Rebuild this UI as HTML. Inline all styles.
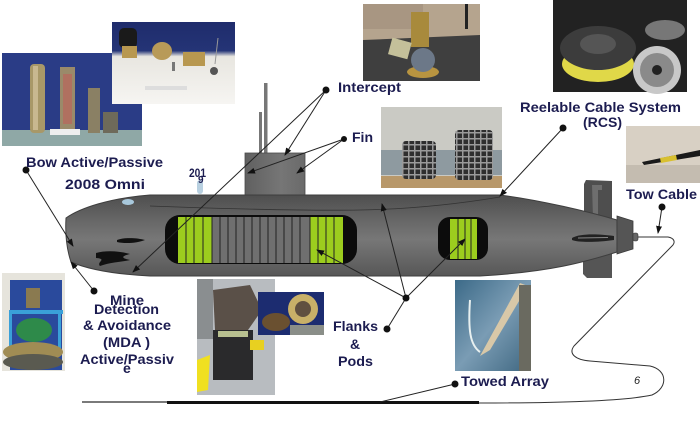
<!DOCTYPE html>
<html><head><meta charset="utf-8"><style>
html,body{margin:0;padding:0;background:#fff;}
svg{display:block;}
text{font-family:"Liberation Sans",Arial,sans-serif;font-weight:bold;fill:#1c1c50;}
</style></head><body>
<svg width="700" height="424" viewBox="0 0 700 424" xmlns="http://www.w3.org/2000/svg">
<defs>
<marker id="ar" markerWidth="8" markerHeight="8" refX="7" refY="4" orient="auto" markerUnits="userSpaceOnUse"><path d="M0,1 L8,4 L0,7 Z" fill="#111"/></marker>
<linearGradient id="hull" x1="0" y1="0" x2="0" y2="1">
<stop offset="0" stop-color="#4e4e4e"/><stop offset="0.3" stop-color="#666"/><stop offset="0.55" stop-color="#777"/><stop offset="1" stop-color="#575757"/></linearGradient>
<linearGradient id="sail" x1="0" y1="0" x2="1" y2="0">
<stop offset="0" stop-color="#606060"/><stop offset="0.6" stop-color="#767676"/><stop offset="1" stop-color="#6a6a6a"/></linearGradient>
<linearGradient id="p2" x1="0" y1="0" x2="0" y2="1">
<stop offset="0" stop-color="#1f2c6c"/><stop offset="0.35" stop-color="#243476"/><stop offset="0.42" stop-color="#e8e6e0"/><stop offset="1" stop-color="#f6f5f2"/></linearGradient>
<linearGradient id="water" x1="0" y1="0" x2="1" y2="1">
<stop offset="0" stop-color="#3c6a88"/><stop offset="0.5" stop-color="#7a9cb4"/><stop offset="1" stop-color="#3e6680"/></linearGradient>
<pattern id="grid" width="6" height="6" patternUnits="userSpaceOnUse"><rect width="6" height="6" fill="#2e2e2e"/><rect x="0" y="0" width="6" height="1.5" fill="#9a9a9a"/><rect x="0" y="0" width="1.5" height="6" fill="#9a9a9a"/></pattern>
</defs>

<!-- Photo: bow (left top) -->
<rect x="2" y="53" width="140" height="93" fill="#2a3c86"/>
<rect x="2" y="130" width="140" height="16" fill="#8fa8a6"/>
<rect x="30" y="64" width="15" height="69" rx="4" fill="#a89868"/>
<rect x="33" y="66" width="5" height="64" fill="#c8b890"/>
<rect x="60" y="67" width="15" height="66" fill="#9a8a6a"/>
<rect x="63" y="74" width="9" height="50" fill="#b07060"/>
<rect x="88" y="88" width="12" height="45" fill="#8a8064"/>
<rect x="103" y="112" width="15" height="21" fill="#6e6a5a"/>
<rect x="50" y="129" width="30" height="6" fill="#eee"/>

<!-- Photo: second top -->
<rect x="112" y="22" width="123" height="82" fill="url(#p2)"/>
<rect x="119" y="28" width="18" height="20" rx="5" fill="#1a1a1a"/>
<rect x="122" y="46" width="15" height="12" fill="#b89850"/>
<ellipse cx="162" cy="51" rx="10" ry="9" fill="#b89a58"/>
<rect x="183" y="52" width="22" height="14" fill="#b89850"/>
<line x1="218" y1="38" x2="215" y2="64" stroke="#999" stroke-width="1"/>
<circle cx="214" cy="71" r="4" fill="#555"/>
<rect x="172" y="62" width="3" height="9" fill="#777"/>
<rect x="145" y="86" width="42" height="4" fill="#ddd"/>

<!-- Photo: intercept -->
<rect x="363" y="4" width="117" height="77" fill="#b5a48e"/>
<rect x="363" y="4" width="60" height="25" fill="#a89682"/>
<path d="M363,40 L480,35 L480,81 L363,81 Z" fill="#3f3f3f"/>
<rect x="411" y="12" width="18" height="35" fill="#a88a3c"/>
<rect x="390" y="40" width="20" height="17" fill="#c4c09a" transform="rotate(15 400 48)"/>
<ellipse cx="423" cy="72" rx="16" ry="6" fill="#b89440"/>
<circle cx="423" cy="60" r="12" fill="#6c7888"/>
<rect x="465" y="4" width="3" height="25" fill="#222"/>

<!-- Photo: RCS -->
<rect x="553" y="0" width="134" height="92" fill="#222"/>
<ellipse cx="598" cy="64" rx="36" ry="18" fill="#e0d848"/>
<ellipse cx="598" cy="48" rx="38" ry="22" fill="#3c3c3c"/>
<ellipse cx="598" cy="44" rx="18" ry="10" fill="#555"/>
<ellipse cx="665" cy="30" rx="20" ry="10" fill="#777"/>
<circle cx="657" cy="70" r="24" fill="#c8c8c8"/>
<circle cx="657" cy="70" r="17" fill="#8a8a8a"/>
<circle cx="657" cy="70" r="5" fill="#222"/>

<!-- Photo: fin cylinders -->
<rect x="381" y="107" width="121" height="81" fill="#cacac4"/>
<rect x="381" y="150" width="121" height="25" fill="#8e9aa0"/>
<rect x="381" y="176" width="121" height="12" fill="#b8986a"/>
<rect x="402" y="141" width="34" height="38" rx="4" fill="url(#grid)"/>
<rect x="455" y="130" width="38" height="50" rx="4" fill="url(#grid)"/>

<!-- Photo: tow cable -->
<rect x="626" y="126" width="74" height="57" fill="#d8d0c4"/>
<rect x="626" y="165" width="74" height="18" fill="#c4bcb0"/>
<path d="M642,162 L700,150 L700,156 L644,165 Z" fill="#1a1a1a"/>
<path d="M660,158 L676,155 L677,160 L661,163 Z" fill="#d8c030"/>

<!-- Photo: mine (bottom-left) -->
<rect x="2" y="273" width="63" height="98" fill="#e6e4dc"/>
<rect x="10" y="280" width="52" height="90" fill="#2a4a9c"/>
<rect x="26" y="288" width="14" height="20" fill="#8a7a50"/>
<rect x="9" y="310" width="54" height="4" fill="#3aa0d8"/>
<rect x="9" y="310" width="3" height="40" fill="#3aa0d8"/>
<rect x="58" y="310" width="3" height="40" fill="#3aa0d8"/>
<ellipse cx="34" cy="330" rx="18" ry="12" fill="#2e8a4a"/>
<ellipse cx="33" cy="352" rx="30" ry="10" fill="#a08c54"/>
<ellipse cx="33" cy="362" rx="30" ry="8" fill="#5a5a50"/>

<!-- Photo: middle bottom -->
<rect x="197" y="279" width="78" height="116" fill="#b8bcc0"/>
<rect x="197" y="279" width="16" height="60" fill="#8a8e90"/>
<path d="M213,290 L250,285 L262,310 L248,330 L215,330 Z" fill="#5a5048"/>
<rect x="213" y="330" width="40" height="50" fill="#2a2a2c"/>
<rect x="218" y="331" width="30" height="6" fill="#b8c090"/>
<path d="M197,360 L210,355 L208,390 L197,392 Z" fill="#f0e020"/>
<rect x="250" y="340" width="14" height="10" fill="#e8d020"/>
<rect x="258" y="292" width="66" height="43" fill="#1c2c70"/>
<circle cx="303" cy="309" r="15" fill="#c8b068"/>
<circle cx="303" cy="309" r="8" fill="#605040"/>
<ellipse cx="276" cy="322" rx="14" ry="9" fill="#6a5030"/>
<rect x="290" y="325" width="34" height="10" fill="#8a8e88"/>

<!-- Photo: towed array -->
<rect x="455" y="280" width="76" height="91" fill="url(#water)"/>
<path d="M520,283 L528,286 L490,350 L480,356 Z" fill="#d8c8a8"/>
<rect x="519" y="285" width="12" height="86" fill="#6a6a60"/>
<path d="M470,300 C468,330 470,345 480,352" stroke="#e8f0f0" stroke-width="2" fill="none"/>

<!-- Masts -->
<rect x="264" y="83" width="3.5" height="72" fill="#777"/>
<rect x="259" y="112" width="3" height="43" fill="#777"/>

<!-- Sail -->
<rect x="245" y="153" width="60" height="42" fill="url(#sail)" stroke="#4a4a4a" stroke-width="0.8"/>

<!-- Stern rudders -->
<path d="M586,180 L612,181 L612,222 L584,222 L584,184 Z" fill="#4e4e4e"/>
<path d="M592,185 L602,185 L602,190 L598,190 L598,218 L593,218 Z" fill="#6e6e6e"/>
<path d="M583,252 L612,252 L612,278 L587,278 L583,274 Z" fill="#555"/>

<!-- Hull -->
<path d="M66,218 C80,208 110,198 150,195 L500,195 C540,200 590,212 617,220 L617,252 C585,262 550,272 480,276 L150,276 C110,274 85,268 71,262 C67,250 65,235 66,218 Z" fill="url(#hull)" stroke="#3e3e3e" stroke-width="1"/>
<path d="M150,206 C200,208 300,211 360,210 C420,209 470,202 500,197" stroke="#333" stroke-width="0.8" fill="none"/>

<!-- Hub -->
<path d="M617,216 L633,221 L633,249 L617,254 Z" fill="#555" stroke="#3a3a3a" stroke-width="0.8"/>
<rect x="633" y="233" width="5" height="8" rx="2" fill="#666" stroke="#333" stroke-width="0.6"/>
<path d="M572,238 C580,233 600,234 614,236 L614,240 C600,242 580,243 572,240 Z" fill="#222"/>
<path d="M578,238 L608,237.5" stroke="#888" stroke-width="1"/>

<!-- Bow details -->
<ellipse cx="128" cy="202" rx="6" ry="3" fill="#a8c8dc"/>
<rect x="197" y="180" width="6" height="14" rx="3" fill="#b8d0e0"/>
<path d="M117,240 C125,237 138,238 145,240 C138,243 125,244 117,242 Z" fill="#111"/>
<path d="M96,253 C106,250 120,251 130,254 C122,256 120,258 130,260 C122,262 110,262 100,266 C96,262 108,259 96,258 Z" fill="#111"/>

<!-- DDS cylinder -->
<rect x="165" y="215" width="192" height="49" rx="15" fill="#0c0c0c"/>
<rect x="178" y="217" width="34" height="46" fill="#9ccd1e"/>
<rect x="212" y="217" width="98" height="46" fill="#6f6f6f"/>
<rect x="310" y="217" width="33" height="46" fill="#9ccd1e"/>
<g stroke="#222" stroke-width="1">
<line x1="186" y1="217" x2="186" y2="263"/><line x1="194" y1="217" x2="194" y2="263"/><line x1="203" y1="217" x2="203" y2="263"/>
<line x1="212" y1="217" x2="212" y2="263"/>
<line x1="220" y1="217" x2="220" y2="263"/><line x1="228" y1="217" x2="228" y2="263"/><line x1="236" y1="217" x2="236" y2="263"/><line x1="244" y1="217" x2="244" y2="263"/><line x1="252" y1="217" x2="252" y2="263"/><line x1="260" y1="217" x2="260" y2="263"/><line x1="268" y1="217" x2="268" y2="263"/><line x1="276" y1="217" x2="276" y2="263"/><line x1="284" y1="217" x2="284" y2="263"/><line x1="292" y1="217" x2="292" y2="263"/><line x1="300" y1="217" x2="300" y2="263"/>
<line x1="310" y1="217" x2="310" y2="263"/>
<line x1="318" y1="217" x2="318" y2="263"/><line x1="326" y1="217" x2="326" y2="263"/><line x1="334" y1="217" x2="334" y2="263"/>
</g>

<!-- Pod -->
<rect x="438" y="217" width="50" height="43" rx="12" fill="#0c0c0c"/>
<rect x="450" y="219" width="27" height="40" fill="#9ccd1e"/>
<g stroke="#222" stroke-width="1">
<line x1="458" y1="219" x2="458" y2="259"/><line x1="465" y1="219" x2="465" y2="259"/><line x1="471" y1="219" x2="471" y2="259"/>
</g>

<!-- Tow cable -->
<path d="M638,237 L668,237 C674,238 676,242 672,246 L574,346 C568,354 576,360 590,361 L650,366 C668,370 668,388 652,395 C620,402 540,403 479,403" stroke="#333" stroke-width="1" fill="none"/>

<!-- Bottom line -->
<line x1="82" y1="402" x2="167" y2="402" stroke="#7a7a7a" stroke-width="2"/>
<line x1="167" y1="402.5" x2="479" y2="402.5" stroke="#111" stroke-width="3"/>

<!-- Connectors -->
<g stroke="#222" stroke-width="1" fill="none">
<line x1="326" y1="90" x2="285" y2="155" marker-end="url(#ar)"/>
<line x1="326" y1="90" x2="133" y2="272" marker-end="url(#ar)"/>
<line x1="344" y1="139" x2="248" y2="173" marker-end="url(#ar)"/>
<line x1="344" y1="139" x2="297" y2="173" marker-end="url(#ar)"/>
<line x1="26" y1="170" x2="73" y2="246" marker-end="url(#ar)"/>
<line x1="94" y1="291" x2="71" y2="262" marker-end="url(#ar)"/>
<line x1="406" y1="298" x2="317" y2="250" marker-end="url(#ar)"/>
<line x1="406" y1="298" x2="382" y2="204" marker-end="url(#ar)"/>
<line x1="387" y1="329" x2="406" y2="298"/>
<line x1="406" y1="298" x2="465" y2="239" marker-end="url(#ar)"/>
<line x1="563" y1="128" x2="500" y2="196" marker-end="url(#ar)"/>
<line x1="662" y1="207" x2="658" y2="233" marker-end="url(#ar)"/>
<line x1="455" y1="384" x2="380" y2="402"/>
</g>
<g fill="#111">
<circle cx="326" cy="90" r="3.5"/><circle cx="344" cy="139" r="3"/><circle cx="26" cy="170" r="3.5"/>
<circle cx="94" cy="291" r="3.5"/><circle cx="406" cy="298" r="3.5"/><circle cx="387" cy="329" r="3.5"/>
<circle cx="563" cy="128" r="3.5"/><circle cx="662" cy="207" r="3.5"/><circle cx="455" cy="384" r="3.5"/>
</g>

<!-- Labels -->
<g font-size="14">
<text x="338" y="92" textLength="63" lengthAdjust="spacingAndGlyphs">Intercept</text>
<text x="352" y="142" textLength="21" lengthAdjust="spacingAndGlyphs">Fin</text>
<text x="26" y="167" textLength="137" lengthAdjust="spacingAndGlyphs">Bow Active/Passive</text>
<text x="65" y="189" textLength="80" lengthAdjust="spacingAndGlyphs">2008 Omni</text>
<text x="520" y="112" textLength="161" lengthAdjust="spacingAndGlyphs">Reelable Cable System</text>
<text x="583" y="127" textLength="39" lengthAdjust="spacingAndGlyphs">(RCS)</text>
<text x="626" y="199" textLength="71" lengthAdjust="spacingAndGlyphs">Tow Cable</text>
<text x="110" y="305" textLength="34" lengthAdjust="spacingAndGlyphs">Mine</text>
<text x="94" y="314" textLength="65" lengthAdjust="spacingAndGlyphs">Detection</text>
<text x="83" y="330" textLength="88" lengthAdjust="spacingAndGlyphs">&amp; Avoidance</text>
<text x="103" y="347" textLength="47" lengthAdjust="spacingAndGlyphs">(MDA )</text>
<text x="80" y="364" textLength="94" lengthAdjust="spacingAndGlyphs">Active/Passiv</text>
<text x="123" y="373">e</text>
<text x="333" y="331" textLength="45" lengthAdjust="spacingAndGlyphs">Flanks</text>
<text x="350" y="349">&amp;</text>
<text x="338" y="366" textLength="35" lengthAdjust="spacingAndGlyphs">Pods</text>
<text x="461" y="386" textLength="88" lengthAdjust="spacingAndGlyphs">Towed Array</text>
</g>
<text x="189" y="177" font-size="12" textLength="17" lengthAdjust="spacingAndGlyphs">201</text>
<text x="198" y="183" font-size="10">9</text>
<text x="634" y="384" font-size="11" font-style="italic" style="font-weight:normal;fill:#222">6</text>
</svg>
</body></html>
